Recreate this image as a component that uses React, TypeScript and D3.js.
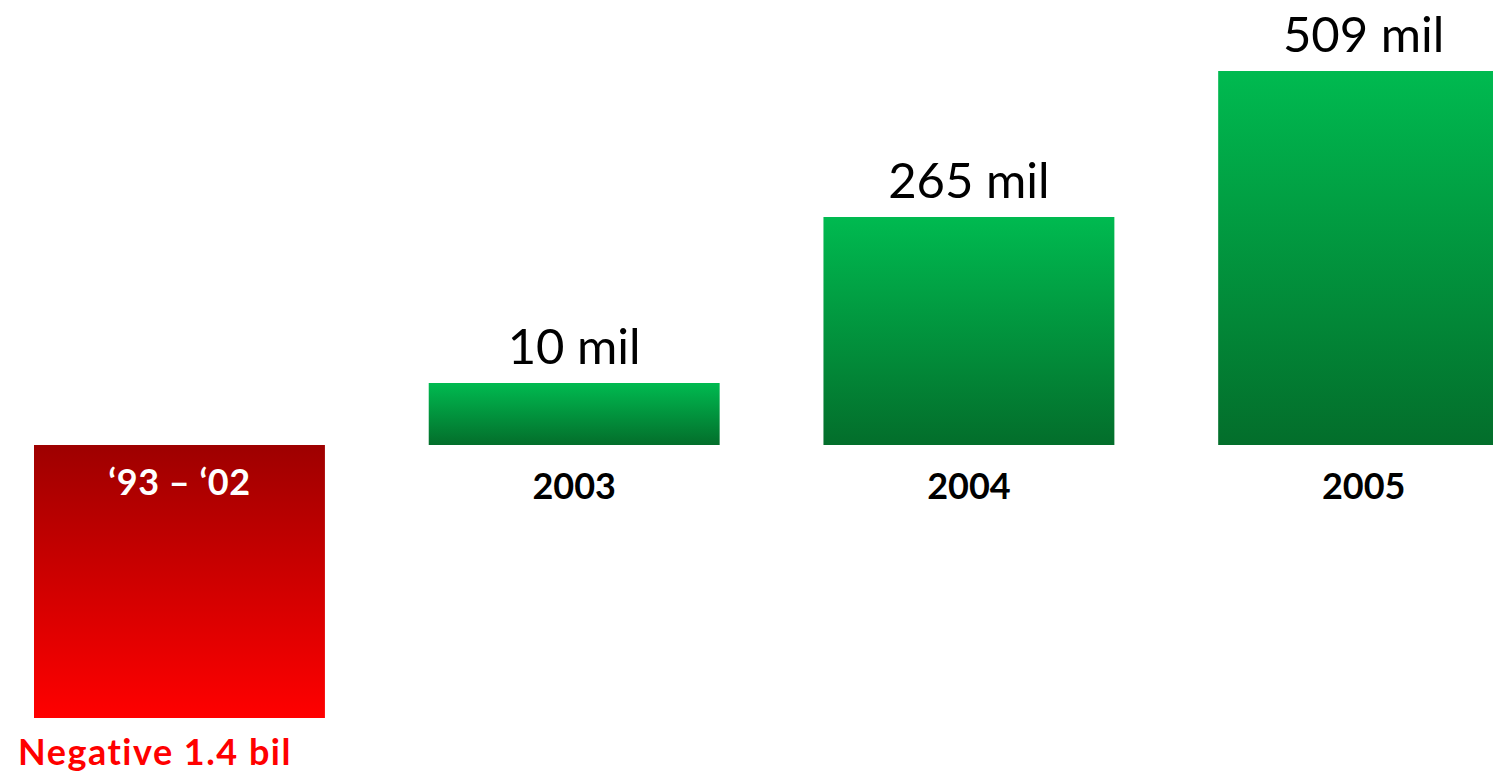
import React from "react";
import * as d3 from "d3";

const categories = ["‘93 – ‘02", "2003", "2004", "2005"];
const values = [-1400, 10, 265, 509];
const valueLabels = ["Negative 1.4 bil", "10 mil", "265 mil", "509 mil"];
// The original graphic is not drawn to a single linear scale; these are the
// value breakpoints of its (piecewise) vertical scale.
const scaleDomain = [-1400, 0, 10, 265, 509];

const W = 1493;
const H = 776;

export default function App() {
  const x = d3
    .scaleBand<string>()
    .domain(categories)
    .range([34, 34 + 3 * 394.7 + 291])
    .paddingInner(0.263)
    .paddingOuter(0);

  const y = d3.scaleLinear().domain(scaleDomain).range([718, 445, 383, 217, 71]);
  const y0 = y(0);
  const font = "Lato, Carlito, Calibri, 'Open Sans', sans-serif";

  return (
    <svg
      width={W}
      height={H}
      style={{ position: "absolute", left: 0, top: 0, display: "block", background: "#fff" }}
    >
      <defs>
        <linearGradient id="gradGreen" x1="0" y1="0" x2="0" y2="1">
          <stop offset="0%" stopColor="#00BA50" />
          <stop offset="100%" stopColor="#036E2B" />
        </linearGradient>
        <linearGradient id="gradRed" x1="0" y1="0" x2="0" y2="1">
          <stop offset="0%" stopColor="#9E0000" />
          <stop offset="100%" stopColor="#FF0000" />
        </linearGradient>
      </defs>
      {categories.map((c, i) => {
        const v = values[i];
        const x0 = x(c) as number;
        const bw = x.bandwidth();
        const cx = x0 + bw / 2;
        const top = Math.min(y(v), y0);
        const h = Math.abs(y(v) - y0);
        const neg = v < 0;
        return (
          <g key={c}>
            <rect x={x0} y={top} width={bw} height={h} fill={neg ? "url(#gradRed)" : "url(#gradGreen)"} />
            {neg ? (
              <>
                <text
                  x={cx}
                  y={y0 + 50}
                  textAnchor="middle"
                  fill="#fff"
                  fontFamily={font}
                  fontWeight={700}
                  fontSize={36}
                  letterSpacing={0.5}
                >
                  {c}
                </text>
                <text
                  x={x0 - 16}
                  y={y(v) + 47}
                  textAnchor="start"
                  fill="#FF0000"
                  fontFamily={font}
                  fontWeight={700}
                  fontSize={36}
                  letterSpacing={1.5}
                >
                  {valueLabels[i]}
                </text>
              </>
            ) : (
              <>
                <text
                  x={cx}
                  y={y(v) - 19}
                  textAnchor="middle"
                  fill="#000"
                  fontFamily={font}
                  fontSize={49}
                >
                  {valueLabels[i]}
                </text>
                <text
                  x={cx}
                  y={y0 + 54}
                  textAnchor="middle"
                  fill="#000"
                  fontFamily={font}
                  fontWeight={700}
                  fontSize={36}
                >
                  {c}
                </text>
              </>
            )}
          </g>
        );
      })}
    </svg>
  );
}
